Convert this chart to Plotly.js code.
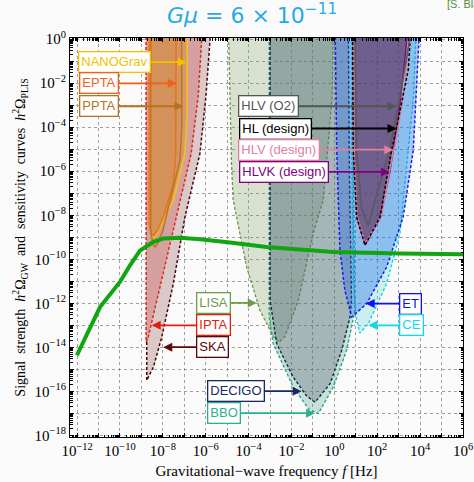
<!DOCTYPE html>
<html><head><meta charset="utf-8">
<script src="https://cdn.plot.ly/plotly-3.0.1.min.js"></script>
<style>html,body{margin:0;padding:0;background:#fafafa}#chart{width:474px;height:482px}</style>
</head><body><div id="chart"></div>
<script>
// All curve values are log10 (frequency in Hz) and log10 (h^2 Omega)
const skaLogF   = [-8.76,-8.76,-8.75,-8.6,-8.44,-8.05,-7.51,-6.97,-6.27,-5.99,-5.80,-5.78];
const skaLogO   = [ 1.0,-14.5,-15.5,-15.2,-14.9,-13.53,-11.1,-8.08,-5.2,-2.59,-0.05, 1.0];
const iptaLogF  = [-8.78,-8.78,-8.68,-8.28,-7.74,-7.2,-6.68,-6.35,-6.19,-6.18];
const iptaLogO  = [ 1.0,-13.76,-13.53,-11.86,-9.59,-7.32,-5.2,-2.59,-0.05, 1.0];
const nanoLogF  = [-8.56,-8.56,-8.52,-8.44,-8.3,-8.13,-7.51,-6.97,-6.87,-6.86];
const nanoLogO  = [ 1.0,-8.4,-8.85,-9.06,-8.9,-8.53,-7.32,-5.2,-3.5, 1.0];
const eptaLogF  = [-8.64,-8.64,-8.56,-8.44,-8.25,-7.98,-7.51,-7.4,-7.38];
const eptaLogO  = [ 1.0,-8.4,-8.78,-8.91,-8.7,-8.08,-6.56,-5.2, 1.0];
const pptaLogF  = [-8.56,-8.56,-8.45,-8.36,-8.25,-8.0,-7.66,-7.2,-7.12,-7.12];
const pptaLogO  = [ 1.0,-8.8,-9.35,-9.44,-9.3,-8.7,-7.32,-5.5,-4.0, 1.0];
const lisaLogF  = [-4.95,-4.8,-4.72,-4.09,-3.47,-3.16,-2.85,-2.58,-2.3,-1.68,-0.98,-0.52,-0.36,-0.1,-0.05];
const lisaLogO  = [ 1.0,-5.6,-7.3,-10.35,-12.32,-12.9,-13.5,-13.76,-13.5,-11.86,-8.8,-7.32,-5.64,-2.6, 1.0];
const bboLogF   = [-3.04,-3.04,-2.85,-1.92,-1.2,-0.75,-0.05,0.57,0.96,0.9,0.87];
const bboLogO   = [ 1.0,-12.6,-13.83,-15.8,-16.8,-17.01,-15.8,-14.14,-12.32,-8.0, 1.0];
const decigoLogF= [-3.0,-3.0,-2.69,-1.92,-1.3,-0.9,-0.2,0.34,0.73,0.8,0.7,0.65];
const decigoLogO= [ 1.0,-11.86,-13.83,-15.35,-16.2,-16.49,-15.65,-14.14,-12.62,-11.86,-6.0, 1.0];
const ceLogF    = [0.81,0.81,0.88,1.04,1.19,1.58,2.44,3.06,3.45,3.7,3.84];
const ceLogO    = [1.0,-5.0,-11.1,-12.77,-13.35,-12.93,-11.1,-8.83,-5.0,-2.5, 1.0];
const etLogF    = [0.03,0.11,0.26,0.49,0.81,1.5,2.44,3.21,3.68,3.96,4.0];
const etLogO    = [1.0,-5.05,-9.59,-11.41,-12.62,-12.02,-10.35,-8.08,-5.05,0.14, 1.0];
const o2LogF    = [0.96,1.04,1.27,1.58,1.9,2.55,2.98,3.52,3.55];
const o2LogO    = [1.0,-5.05,-7.7,-8.45,-7.3,-5.15,-3.05,0.0, 1.0];
const hlLogF    = [0.85,0.88,1.04,1.43,2.13,2.67,2.9,3.45,3.6];
const hlLogO    = [1.0,-5.05,-8.08,-9.36,-8.08,-5.05,-4.03,-1.38, 1.0];
const hlvLogF   = [0.9,0.92,1.05,1.43,2.2,2.75,2.83,3.3,3.55];
const hlvLogO   = [1.0,-5.0,-8.0,-9.3,-8.0,-5.02,-4.86,-2.0, 1.0];
const hlvkLogF  = [0.9,0.93,1.05,1.43,2.15,2.59,3.0,3.5];
const hlvkLogO  = [1.0,-5.0,-8.1,-9.35,-8.1,-6.03,-3.5, 1.0];
const signalLogF= [-12.01,-10.93,-10.0,-9.53,-9.06,-8.44,-7.98,-7.2,-6.27,-5.65,-4.87,-3.16,-0.05,3.06,6.0];
const signalLogO= [-14.36,-12.17,-11.03,-10.27,-9.6,-9.21,-9.06,-9.02,-9.09,-9.15,-9.24,-9.44,-9.67,-9.74,-9.77];

const xTickExp  = [-12,-11,-10,-9,-8,-7,-6,-5,-4,-3,-2,-1,0,1,2,3,4,5,6];
const xTickText = ['10<sup>−12</sup>','','10<sup>−10</sup>','','10<sup>−8</sup>','','10<sup>−6</sup>','','10<sup>−4</sup>','','10<sup>−2</sup>','','10<sup>0</sup>','','10<sup>2</sup>','','10<sup>4</sup>','','10<sup>6</sup>'];
const yTickExp  = [0,-1,-2,-3,-4,-5,-6,-7,-8,-9,-10,-11,-12,-13,-14,-15,-16,-17,-18];
const yTickText = ['10<sup>0</sup>','','10<sup>−2</sup>','','10<sup>−4</sup>','','10<sup>−6</sup>','','10<sup>−8</sup>','','10<sup>−10</sup>','','10<sup>−12</sup>','','10<sup>−14</sup>','','10<sup>−16</sup>','','10<sup>−18</sup>'];

const labelNames = ['NANOGrav','EPTA','PPTA','HLV (O2)','HL (design)','HLV (design)','HLVK (design)','LISA','IPTA','SKA','DECIGO','BBO','ET','CE'];
const labelTipLogF = [-6.89,-7.35,-7.04,2.9,2.9,2.75,2.59,-3.62,-8.52,-7.98,-1.53,-0.9,1.46,1.58];
const labelTipLogO = [-1.05,-2.01,-3.05,-3.05,-4.06,-5.02,-6.03,-11.98,-13.0,-13.99,-15.99,-16.99,-12.01,-13.0];

const P = v => v.map(e => Math.pow(10, e));
const traces = [];
function region(lf, lo, fill, line, dash, width) {
  traces.push({x: P(lf), y: P(lo), type:'scatter', mode:'lines', fill:'toself', fillcolor: fill,
    line:{color: line, width: width||1.4, dash: dash||'solid'}, hoverinfo:'skip', showlegend:false});
}
function curve(lf, lo, line, dash, width) {
  traces.push({x: P(lf), y: P(lo), type:'scatter', mode:'lines',
    line:{color: line, width: width||1.4, dash: dash||'solid'}, hoverinfo:'skip', showlegend:false});
}
const D = '3px,2px';
region(skaLogF, skaLogO, '#d9c9c9', '#4d0505', D, 1.5);
region(iptaLogF, iptaLogO, '#d5a0a0', '#e3271a', D, 1.5);
region(nanoLogF, nanoLogO, 'rgba(216,152,96,0.85)', '#f7c31a', 'solid', 1.5);
region(eptaLogF, eptaLogO, 'rgba(225,130,60,0.2)', '#f2701c', 'solid', 1.5);
region(pptaLogF, pptaLogO, 'rgba(190,125,60,0.15)', '#b9781f', 'solid', 1.5);
region(lisaLogF, lisaLogO, 'rgba(116,152,80,0.25)', '#6d9645', D, 1.3);
region(bboLogF, bboLogO, 'rgba(36,156,116,0.25)', '#2fa585', D, 1.4);
region(decigoLogF, decigoLogO, 'rgba(93,80,113,0.3)', '#17264f', D, 1.4);
region(ceLogF, ceLogO, 'rgba(16,196,196,0.2)', '#15d6e3', D, 1.4);
region(etLogF, etLogO, 'rgba(10,90,235,0.32)', '#1120f2', D, 1.5);
region(hlvkLogF, hlvkLogO, 'rgba(90,32,77,0.6)', '#7d0a80', 'solid', 1.4);
curve(hlvLogF, hlvLogO, '#e07a9c', 'solid', 1.6);
curve(hlLogF, hlLogO, '#000000', D, 1.5);
curve(o2LogF, o2LogO, '#5a5a5a', 'solid', 1.6);
curve(signalLogF, signalLogO, '#12a512', 'solid', 4);

const labelColors = ['#f5c000','#f0601a','#b57420','#555555','#000000','#e0809e','#800080','#6f9a4a','#e02010','#5a0808','#1a2a60','#2fae8f','#1010f0','#10d8e8'];
const labelAx = [-72,-78,-84,-128,-121,-114,-106,-43,62,49,-66,-91,45,43];
const annotations = labelNames.map((t, i) => ({
  x: labelTipLogF[i], y: labelTipLogO[i], xref:'x', yref:'y', text: t,
  showarrow: true, ax: labelAx[i], ay: 0, arrowhead: 2, arrowsize: 1, arrowwidth: 1.8,
  arrowcolor: labelColors[i], standoff: 0,
  font:{family:'Liberation Sans, Arial, sans-serif', size:13, color: labelColors[i]},
  bgcolor:'#ffffff', bordercolor: labelColors[i], borderwidth: 1.3, borderpad: 2
}));
annotations.push({xref:'paper', yref:'paper', x: 0.955, y: 1.085, xanchor:'left', yanchor:'middle',
  text:'[S. Blasi et al.]', showarrow:false,
  font:{family:'Liberation Sans, Arial, sans-serif', size:11, color:'#4f8f3a'}});

const serif = 'Liberation Serif, DejaVu Serif, serif';
const minorTicks = {ticks:'inside', ticklen:2.5, tickcolor:'#000', dtick:'D1', showgrid:false};
const layout = {
  width:474, height:482,
  margin:{l:70, r:11, t:38, b:45},
  paper_bgcolor:'#fafafa', plot_bgcolor:'#fafafa',
  showlegend:false,
  title:{text:'<i>Gμ</i> = 6 × 10<sup>−11</sup>', x:0.532, xanchor:'center', y:0.968, yanchor:'middle',
    font:{family:'DejaVu Sans, sans-serif', size:22, color:'#2aaae2'}},
  xaxis:{type:'log', range:[-12.33, 6], tickmode:'array', tickvals:P(xTickExp), ticktext:xTickText,
    ticks:'inside', ticklen:4, tickcolor:'#000', showline:true, linecolor:'#000', linewidth:1, mirror:'allticks',
    showgrid:true, gridcolor:'#8a8a8a', griddash:'3px,3px', gridwidth:0.8, zeroline:false, minor: minorTicks,
    tickfont:{family:serif, size:15, color:'#000'},
    title:{text:'Gravitational−wave frequency <i>f</i> [Hz]', standoff:7, font:{family:serif, size:15, color:'#000'}}},
  yaxis:{type:'log', range:[-18.07, 0.05], tickmode:'array', tickvals:P(yTickExp), ticktext:yTickText,
    ticks:'inside', ticklen:4, tickcolor:'#000', showline:true, linecolor:'#000', linewidth:1, mirror:'allticks',
    showgrid:true, gridcolor:'#8a8a8a', griddash:'3px,3px', gridwidth:0.8, zeroline:false, minor: minorTicks,
    tickfont:{family:serif, size:15, color:'#000'},
    title:{text:'Signal\u00a0\u00a0strength\u00a0\u00a0<i>h</i><sup>2</sup>Ω<sub>GW</sub>\u00a0\u00a0and\u00a0\u00a0sensitivity\u00a0\u00a0curves\u00a0\u00a0<i>h</i><sup>2</sup>Ω<sub>PLIS</sub>',
      standoff:5, font:{family:serif, size:14, color:'#000'}}},
  annotations: annotations
};
Plotly.newPlot('chart', traces, layout, {displayModeBar:false, staticPlot:true});
</script></body></html>
